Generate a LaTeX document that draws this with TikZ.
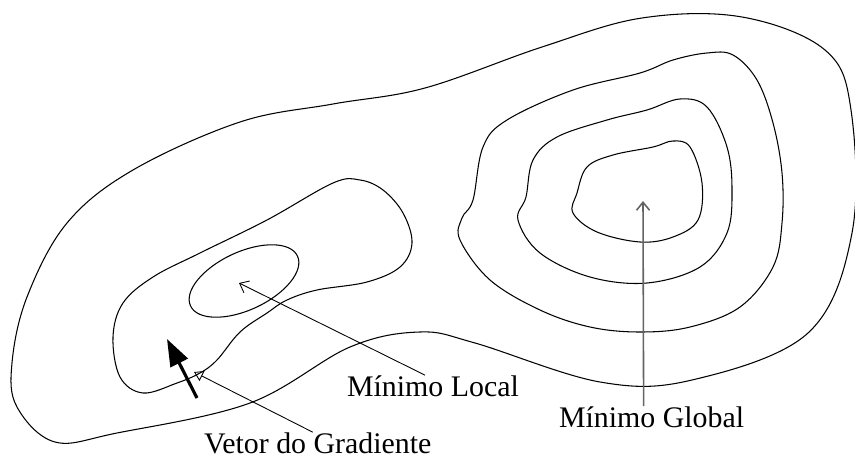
\documentclass[tikz,border=0pt]{standalone}
\usepackage{fontspec}
\setmainfont{Liberation Serif}
\usetikzlibrary{
    arrows.meta,
    positioning,
    calc
}
\definecolor{arrowgray}{RGB}{100,100,100}
\tikzset{
    % Level curves
    contour/.style={
        draw=black,
        line width=0.6pt
    },
    % Pointers from the labels
    pointer/.style={
        -{Straight Barb[length=1.6mm,width=2.6mm]},
        line width=0.5pt,
        draw=black
    },
    % Gradient vector
    gradarrow/.style={
        -{Triangle[length=5.4mm,width=3.8mm]},
        line width=1.8pt,
        draw=black
    },
    % Labels
    lbl/.style={
        font=\fontsize{17}{20}\selectfont,
        inner sep=1pt
    }
}
\begin{document}
\begin{tikzpicture}[x=0.02cm, y=-0.02cm]

    \useasboundingbox (0,0) rectangle (855,459);

    % Outer curve
    \draw[contour] plot[smooth cycle, tension=0.6] coordinates {
        (333,104) (425,88) (542,47) (642,18) (742,17) (825,50) (851,110)
        (852,233) (808,333) (692,380) (600,382) (475,343) (420,332) (350,347)
        (250,403) (117,433) (55,442) (17,407) (12,363) (27,297) (67,223)
        (133,170) (240,122)};

    % Valley of the local minimum
    \draw[contour] plot[smooth cycle, tension=0.6] coordinates {
        (360,180) (383,190) (403,213) (412,243) (400,267) (367,282) (317,290)
        (287,300) (267,313) (240,332) (217,360) (200,373) (177,383) (143,393)
        (120,377) (113,337) (123,303) (153,277) (200,253) (267,220) (333,183)};
    \draw[contour, rotate around={25:(244,281)}] (244,281) ellipse [x radius=1.18cm, y radius=0.58cm];

    % Valley of the global minimum
    \draw[contour] plot[smooth cycle, tension=0.6] coordinates {
        (473,200) (483,147) (507,120) (573,90) (640,73) (673,60) (707,53)
        (733,55) (757,80) (773,123) (782,173) (782,223) (773,267) (740,307)
        (690,327) (640,332) (590,327) (540,310) (490,280) (460,240) (462,218)};
    \draw[contour] plot[smooth cycle, tension=0.6] coordinates {
        (526,197) (533,160) (557,137) (607,120) (647,110) (680,99) (707,107)
        (727,147) (732,190) (727,233) (700,267) (647,283) (590,277) (540,253)
        (518,220)};
    \draw[contour] plot[smooth cycle, tension=0.6] coordinates {
        (577,193) (587,167) (613,155) (653,147) (673,141) (690,147) (702,183)
        (698,220) (673,237) (640,242) (597,232) (573,213)};

    % Points
    \coordinate (localmin) at (239,283);
    \coordinate (globalmin) at (643,201);
    \coordinate (gradpt) at (194,372);
    \coordinate (gradtail) at (197,398);
    \coordinate (gradtip) at (167,339);

    % Labels
    \node[lbl, anchor=base west] (lbllocal) at (345,396) {Mínimo Local};
    \node[lbl, anchor=base west] (lblglobal) at (557,427) {Mínimo Global};
    \node[lbl, anchor=base west] (lblgrad) at (202,453) {Vetor do Gradiente};

    % Arrows
    \draw[pointer] ($(lbllocal.north)+(-8,2)$) -- (localmin);
    \draw[pointer, draw=arrowgray, line width=0.9pt] ($(lblglobal.north)+(-8,2)$) -- (globalmin);
    \draw[-{Triangle[open,length=1.8mm,width=2.2mm]}, line width=0.5pt] ($(lblgrad.north)+(-5,2)$) -- (gradpt);
    \draw[gradarrow] (gradtail) -- (gradtip);

\end{tikzpicture}
\end{document}
